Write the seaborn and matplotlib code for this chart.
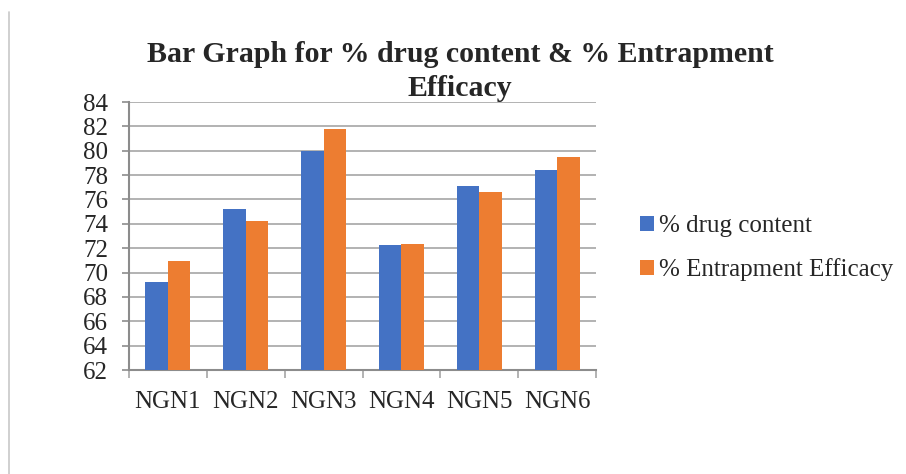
import matplotlib
matplotlib.use("Agg")
import matplotlib.pyplot as plt
from matplotlib.lines import Line2D
from matplotlib.patches import Patch
import seaborn as sns
import pandas as pd
import numpy as np

# Formulation data
formulations = ["NGN1", "NGN2", "NGN3", "NGN4", "NGN5", "NGN6"]
drug_content = [69.2, 75.2, 80.0, 72.3, 77.1, 78.45]
entrapment_efficacy = [70.95, 74.2, 81.75, 72.35, 76.6, 79.45]
series_names = ["% drug content", "% Entrapment Efficacy"]
y_ticks = [62, 64, 66, 68, 70, 72, 74, 76, 78, 80, 82, 84]

colors = ["#4472C4", "#ED7D31"]

df = pd.DataFrame({
    "Formulation": formulations * 2,
    "Series": [series_names[0]] * len(formulations) + [series_names[1]] * len(formulations),
    "Value": drug_content + entrapment_efficacy,
})

sns.set_style("white")
plt.rcParams["font.family"] = ["Liberation Serif", "DejaVu Serif"]

fig = plt.figure(figsize=(9.06, 4.74), dpi=100)
ax = fig.add_axes([129 / 906, 1 - 370 / 474, (596 - 129) / 906, (370 - 102) / 474])

sns.barplot(data=df, x="Formulation", y="Value", hue="Series",
            order=formulations, hue_order=series_names, palette=colors,
            width=0.58, gap=0, saturation=1, edgecolor="none",
            legend=False, ax=ax, zorder=3)

ax.set_ylim(62, 84)
ax.set_xlim(-0.5, len(formulations) - 0.5)
ax.set_yticks(y_ticks)
ax.set_yticklabels([str(t) for t in y_ticks], fontsize=18)
ax.set_xlabel("")
ax.set_ylabel("")

ax.yaxis.grid(True, color="#a6a6a6", linewidth=1.2, zorder=0)
ax.set_axisbelow(True)
for side in ["top", "right"]:
    ax.spines[side].set_visible(False)
for side in ["left", "bottom"]:
    ax.spines[side].set_color("#8c8c8c")
    ax.spines[side].set_linewidth(1.5)

ax.tick_params(axis="y", which="major", length=5, width=1.2, color="#8c8c8c",
               direction="out", pad=10, left=True)
ax.tick_params(axis="x", which="major", length=0, pad=15, labelsize=18)
ax.set_xticks(np.arange(-0.5, len(formulations), 1.0), minor=True)
ax.tick_params(axis="x", which="minor", length=6, width=1.2, color="#a6a6a6",
               direction="out", bottom=True)

fig.text(0.508, 0.913, "Bar Graph for % drug content & % Entrapment\nEfficacy",
         ha="center", va="top", fontsize=21.5, fontweight="bold",
         linespacing=1.3)

handles = [Patch(facecolor=c, edgecolor="none") for c in colors]
fig.legend(handles, series_names, loc="upper left",
           bbox_to_anchor=(640 / 906, 1 - 215 / 474), frameon=False,
           fontsize=18, handlelength=0.55, handleheight=0.55,
           handletextpad=0.2, labelspacing=0.85, borderpad=0, borderaxespad=0)

# page frame line along the left edge
fig.add_artist(Line2D([9 / 906, 9 / 906], [0, 1 - 12 / 474],
                      transform=fig.transFigure, color="#c8c8c8", linewidth=1.2))

fig.savefig("out.png", dpi=100)
